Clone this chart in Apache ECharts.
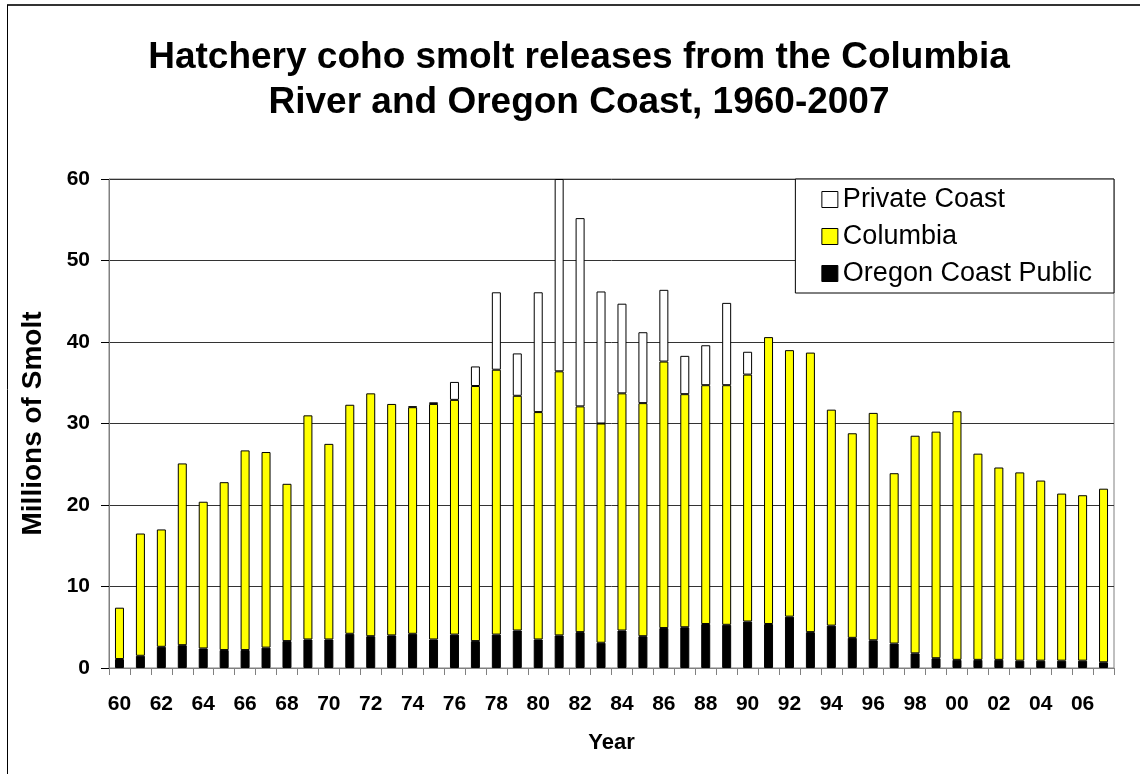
<!DOCTYPE html>
<html>
<head>
<meta charset="utf-8">
<title>Hatchery coho smolt releases</title>
<script src="https://cdn.jsdelivr.net/npm/echarts@6/dist/echarts.min.js"></script>
<style>
  html, body { margin: 0; padding: 0; background: #fff; }
  #chart { width: 1140px; height: 774px; }
</style>
</head>
<body>
<div id="chart"></div>
<script>
// Release years 1960-2007, labelled by two-digit year
const years = ['60','61','62','63','64','65','66','67','68','69',
               '70','71','72','73','74','75','76','77','78','79',
               '80','81','82','83','84','85','86','87','88','89',
               '90','91','92','93','94','95','96','97','98','99',
               '00','01','02','03','04','05','06','07'];

// Millions of smolt released, per source
const oregonCoastPublic = [1.1, 1.5, 2.6, 2.8, 2.4, 2.2, 2.2, 2.5, 3.3, 3.5,
                           3.5, 4.2, 3.9, 4.0, 4.2, 3.5, 4.1, 3.3, 4.1, 4.6,
                           3.5, 4.0, 4.4, 3.1, 4.6, 3.9, 4.9, 5.0, 5.4, 5.3,
                           5.7, 5.4, 6.3, 4.4, 5.2, 3.7, 3.4, 3.0, 1.8, 1.2,
                           1.0, 1.0, 1.0, 0.9, 0.9, 0.9, 0.9, 0.7];

const columbia = [6.3, 15.0, 14.4, 22.3, 18.0, 20.6, 24.5, 24.0, 19.3, 27.5,
                  24.0, 28.1, 29.8, 28.4, 27.8, 28.9, 28.8, 31.3, 32.5, 28.8,
                  27.9, 32.4, 27.7, 26.9, 29.1, 28.6, 32.7, 28.6, 29.3, 29.4,
                  30.3, 35.2, 32.7, 34.3, 26.5, 25.1, 27.9, 20.9, 26.7, 27.8,
                  30.5, 25.3, 23.6, 23.1, 22.1, 20.5, 20.3, 21.3];

const privateCoast = [null, null, null, null, null, null, null, null, null, null,
                      null, null, null, null, 0.1, 0.2, 2.2, 2.4, 9.5, 5.2,
                      14.7, 23.6, 23.1, 16.2, 11.0, 8.7, 8.8, 4.7, 4.9, 10.1,
                      2.8, null, null, null, null, null, null, null, null, null,
                      null, null, null, null, null, null, null, null];

const yTicks = { min: 0, max: 60, interval: 10 };

const FONT = '"Liberation Sans", Arial, Helvetica, sans-serif';

const chart = echarts.init(document.getElementById('chart'), null, { renderer: 'canvas' });

function barSeries(name, data, color) {
  return {
    name: name,
    type: 'bar',
    stack: 'total',
    barWidth: 9,
    data: data,
    itemStyle: { color: color, borderColor: '#000', borderWidth: 1 },
    emphasis: { disabled: true }
  };
}

chart.setOption({
  animation: false,
  backgroundColor: '#fff',
  textStyle: { fontFamily: FONT },
  title: {
    text: 'Hatchery coho smolt releases from the Columbia\nRiver and Oregon Coast, 1960-2007',
    left: 574,
    top: 30,
    textAlign: 'center',
    textStyle: {
      fontFamily: FONT,
      fontSize: 37,
      fontWeight: 'bold',
      color: '#000',
      lineHeight: 45
    }
  },
  grid: {
    left: 109,
    right: 26,
    top: 179,
    bottom: 106,
    show: true,
    borderColor: '#808080',
    borderWidth: 1,
    backgroundColor: 'transparent'
  },
  legend: {
    orient: 'vertical',
    right: 26,
    top: 179,
    data: ['Private Coast', 'Columbia', 'Oregon Coast Public'],
    itemWidth: 16,
    itemHeight: 16,
    itemGap: 10,
    padding: [7, 22, 6, 26],
    borderColor: '#000',
    borderWidth: 1,
    backgroundColor: '#fff',
    icon: 'rect',
    selectedMode: false,
    itemStyle: { borderColor: '#000', borderWidth: 1 },
    textStyle: {
      fontFamily: FONT,
      fontSize: 27,
      color: '#000'
    }
  },
  xAxis: {
    type: 'category',
    data: years,
    name: 'Year',
    nameLocation: 'middle',
    nameGap: 64,
    nameTextStyle: { fontFamily: FONT, fontSize: 22, fontWeight: 'bold', color: '#000' },
    axisLine: { lineStyle: { color: '#808080', width: 1 } },
    axisTick: { show: true, interval: 0, length: 7, lineStyle: { color: '#808080' } },
    axisLabel: {
      interval: 1,
      margin: 26,
      fontFamily: FONT,
      fontSize: 21,
      fontWeight: 'bold',
      color: '#000'
    },
    splitLine: { show: false }
  },
  yAxis: {
    type: 'value',
    min: yTicks.min,
    max: yTicks.max,
    interval: yTicks.interval,
    name: 'Millions of Smolt',
    nameLocation: 'middle',
    nameRotate: 90,
    nameGap: 62,
    nameTextStyle: { fontFamily: FONT, fontSize: 28, fontWeight: 'bold', color: '#000' },
    axisLine: { show: true, lineStyle: { color: '#808080', width: 1 } },
    axisTick: { show: true, length: 8, lineStyle: { color: '#000' } },
    axisLabel: {
      margin: 19,
      fontFamily: FONT,
      fontSize: 21,
      fontWeight: 'bold',
      color: '#000'
    },
    splitLine: { show: true, lineStyle: { color: '#333', width: 1 } }
  },
  series: [
    barSeries('Oregon Coast Public', oregonCoastPublic, '#000000'),
    barSeries('Columbia', columbia, '#ffff00'),
    barSeries('Private Coast', privateCoast, '#ffffff')
  ],
  graphic: [
    { type: 'line', shape: { x1: 7, y1: 5, x2: 1140, y2: 5 },
      style: { stroke: '#333', lineWidth: 2 }, silent: true },
    { type: 'line', shape: { x1: 7.5, y1: 5, x2: 7.5, y2: 774 },
      style: { stroke: '#000', lineWidth: 1 }, silent: true }
  ]
});
</script>
</body>
</html>
